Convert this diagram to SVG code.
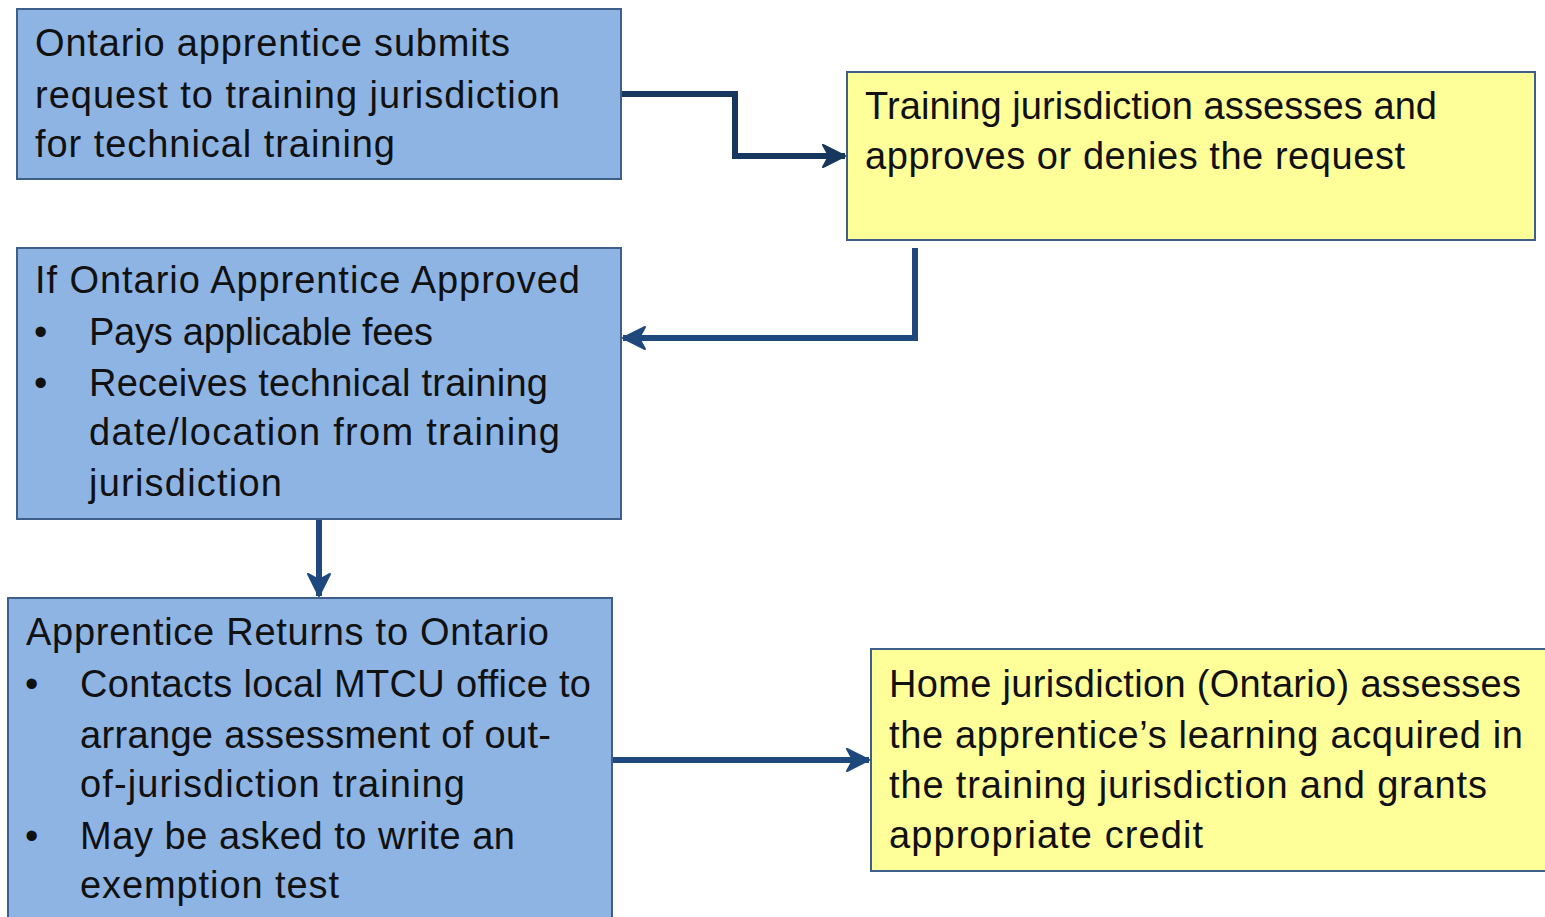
<svg xmlns="http://www.w3.org/2000/svg" width="1545" height="917" viewBox="0 0 1545 917">
<style>
.blue{fill:#8EB4E3;stroke:#3E5F8A;stroke-width:2}
.yel{fill:#FFFF99;stroke:#3E5F8A;stroke-width:2}
text{font-family:"Liberation Sans",Arial,sans-serif;font-size:38px;fill:#111}
.c{fill:none;stroke:#1F497D;stroke-width:6}
</style>
<defs>
<marker id="ah" markerUnits="userSpaceOnUse" markerWidth="28" markerHeight="28" viewBox="0 0 28 28" refX="25" refY="14" orient="auto">
<path d="M3,3 L25,14 L3,25 L9,14 Z" fill="#1F497D" stroke="#1F497D" stroke-width="2" stroke-linejoin="round"/>
</marker>
<marker id="ah2" markerUnits="userSpaceOnUse" markerWidth="28" markerHeight="28" viewBox="0 0 28 28" refX="25" refY="14" orient="auto">
<path d="M3,3 L25,14 L3,25 L9,14 Z" fill="#17375E" stroke="#17375E" stroke-width="2" stroke-linejoin="round"/>
</marker>
</defs>
<g id="connectors">
<path class="c" style="stroke:#17375E" d="M621,94 H735 V156 H845" marker-end="url(#ah2)"/>
<path class="c" d="M915,248 V338 H623" marker-end="url(#ah)"/>
<path class="c" d="M319,519 V596" marker-end="url(#ah)"/>
<path class="c" d="M612,760 H869" marker-end="url(#ah)"/>
</g>
<g id="n1">
<rect class="blue" x="17" y="9" width="604" height="170"/>
<text x="35" y="56" textLength="475">Ontario apprentice submits</text>
<text x="35" y="108" textLength="525">request to training jurisdiction</text>
<text x="35" y="157" textLength="360">for technical training</text>
</g>
<g id="n2">
<rect class="yel" x="847" y="72" width="688" height="168"/>
<text x="865" y="119" textLength="572">Training jurisdiction assesses and</text>
<text x="865" y="169" textLength="540">approves or denies the request</text>
</g>
<g id="n3">
<rect class="blue" x="17" y="248" width="604" height="271"/>
<text x="35" y="293" textLength="545">If Ontario Apprentice Approved</text>
<text x="34" y="345">•</text>
<text x="89" y="345" textLength="344">Pays applicable fees</text>
<text x="34" y="396">•</text>
<text x="89" y="396" textLength="459">Receives technical training</text>
<text x="89" y="445" textLength="471">date/location from training</text>
<text x="89" y="496" textLength="193">jurisdiction</text>
</g>
<g id="n4">
<rect class="blue" x="8" y="598" width="604" height="330"/>
<text x="26" y="645" textLength="523">Apprentice Returns to Ontario</text>
<text x="25" y="697">•</text>
<text x="80" y="697" textLength="511">Contacts local MTCU office to</text>
<text x="80" y="748" textLength="471">arrange assessment of out-</text>
<text x="80" y="797" textLength="385">of-jurisdiction training</text>
<text x="25" y="849">•</text>
<text x="80" y="849" textLength="435">May be asked to write an</text>
<text x="80" y="898" textLength="259">exemption test</text>
</g>
<g id="n5">
<rect class="yel" x="871" y="649" width="690" height="222"/>
<text x="889" y="697" textLength="632">Home jurisdiction (Ontario) assesses</text>
<text x="889" y="748" textLength="634">the apprentice’s learning acquired in</text>
<text x="889" y="798" textLength="598">the training jurisdiction and grants</text>
<text x="889" y="848" textLength="314">appropriate credit</text>
</g>
</svg>
